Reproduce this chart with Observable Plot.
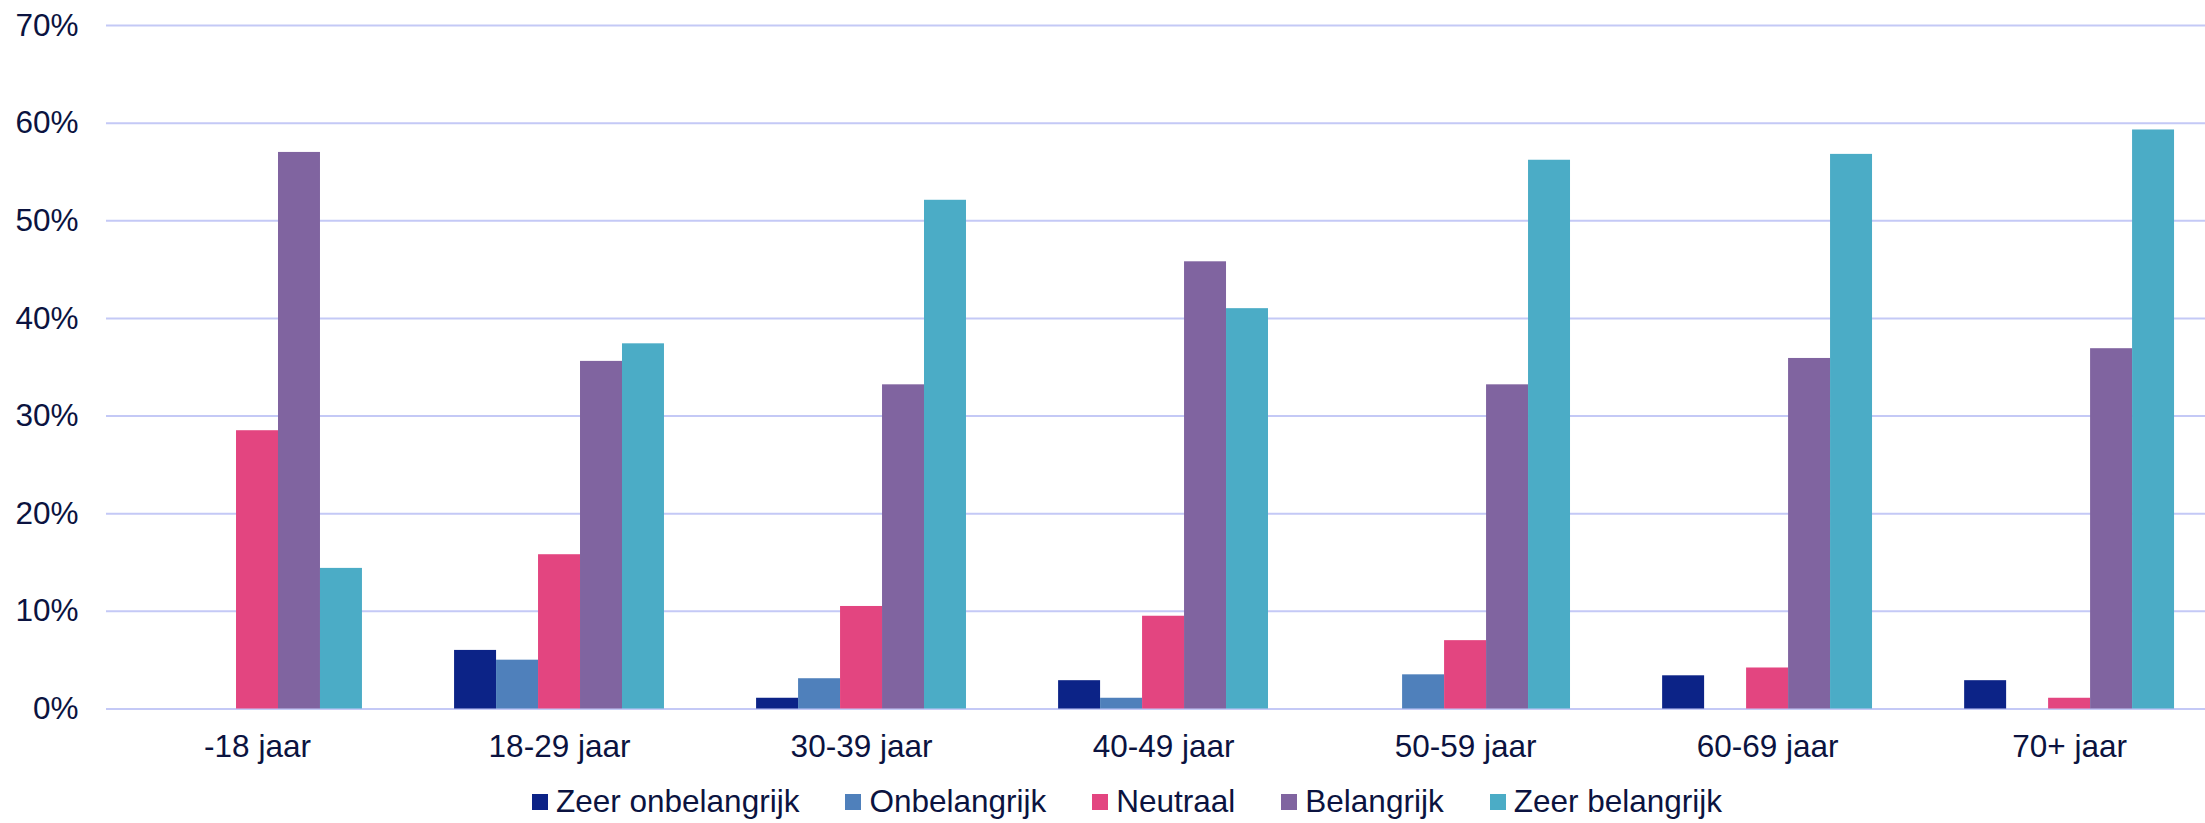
<!DOCTYPE html>
<html><head><meta charset="utf-8">
<script src="https://cdn.jsdelivr.net/npm/d3@7"></script>
<script src="https://cdn.jsdelivr.net/npm/@observablehq/plot@0.6"></script>
<style>
html,body{margin:0;padding:0;background:#fff;overflow:hidden;}
#chart{width:2205px;height:823px;font-family:"Liberation Sans",Arial,sans-serif;color:#0b1340;}
.legend{display:flex;align-items:center;margin-left:532px;height:42px;font-size:31.5px;line-height:1;}
.item{display:flex;align-items:center;margin-right:46px;white-space:nowrap;}
.sw{width:16px;height:16px;margin-right:8px;flex:none;}
</style></head><body><div id="chart"></div>
<script>
const categories = ["-18 jaar","18-29 jaar","30-39 jaar","40-49 jaar","50-59 jaar","60-69 jaar","70+ jaar"];
const seriesNames = ["Zeer onbelangrijk","Onbelangrijk","Neutraal","Belangrijk","Zeer belangrijk"];
const zeerOnbelangrijk = [0, 6.0, 1.1, 2.9, 0, 3.4, 2.9];
const onbelangrijk     = [0, 5.0, 3.1, 1.1, 3.5, 0, 0];
const neutraal         = [28.5, 15.8, 10.5, 9.5, 7.0, 4.2, 1.1];
const belangrijk       = [57.0, 35.6, 33.2, 45.8, 33.2, 35.9, 36.9];
const zeerBelangrijk   = [14.4, 37.4, 52.1, 41.0, 56.2, 56.8, 59.3];
const yTicks = [0, 10, 20, 30, 40, 50, 60, 70];
const colors = ["#0c2387", "#4f80bb", "#e34580", "#8064a0", "#4bacc6"];

const seriesValues = [zeerOnbelangrijk, onbelangrijk, neutraal, belangrijk, zeerBelangrijk];
const barW = 0.139; // fraction of a category step per bar
const table = [];
categories.forEach((c, i) => {
  seriesValues.forEach((vals, s) => {
    const x1 = i - (barW * seriesNames.length) / 2 + s * barW;
    table.push({category: c, series: seriesNames[s], value: vals[i], x1, x2: x1 + barW});
  });
});

const textColor = "#0b1340";
const plot = Plot.plot({
  width: 2205,
  height: 781,
  marginLeft: 106,
  marginRight: 0,
  marginTop: 25,
  marginBottom: 72.5,
  style: {fontFamily: '"Liberation Sans", Arial, sans-serif', fontSize: "31.5px", color: textColor, background: "#fff"},
  x: {type: "linear", domain: [-0.5, 6.45], axis: null},
  y: {domain: [0, 70], axis: null},
  color: {domain: seriesNames, range: colors},
  marks: [
    Plot.gridY(yTicks, {stroke: "#c4c9f6", strokeOpacity: 1, strokeWidth: 2}),
    Plot.rectY(table, {x1: "x1", x2: "x2", y: "value", fill: "series"}),
    Plot.axisY(yTicks, {tickSize: 0, tickPadding: 28, tickFormat: d => d + "%", fontSize: 31.5, fill: textColor, label: null}),
    Plot.axisX(categories.map((c, i) => i), {tickSize: 0, tickPadding: 26, tickFormat: i => categories[i], fontSize: 31.5, fill: textColor, label: null})
  ]
});
const root = document.getElementById("chart");
root.appendChild(plot);

const legend = document.createElement("div");
legend.className = "legend";
seriesNames.forEach((name, s) => {
  const item = document.createElement("div");
  item.className = "item";
  const sw = document.createElement("span");
  sw.className = "sw";
  sw.style.background = colors[s];
  const label = document.createElement("span");
  label.textContent = name;
  item.appendChild(sw);
  item.appendChild(label);
  legend.appendChild(item);
});
root.appendChild(legend);
</script></body></html>
